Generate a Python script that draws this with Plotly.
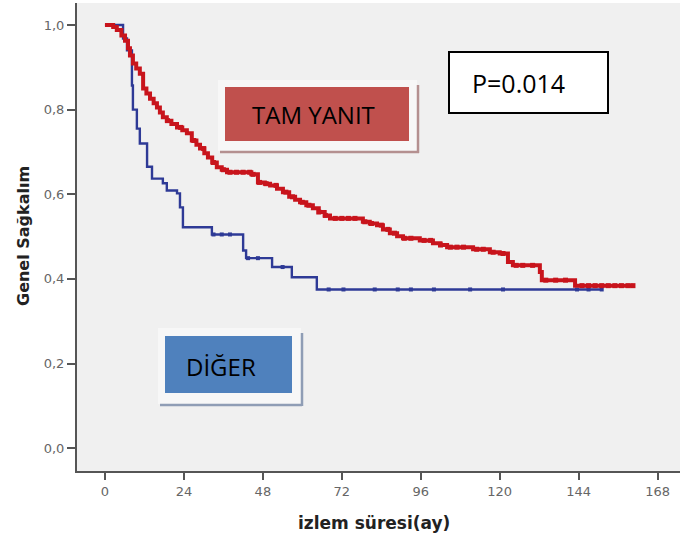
import numpy as np
import plotly.graph_objects as go

# Kaplan-Meier okumalari (ay, sagkalim)
tam_time = [0, 2.5, 3.6, 5.0, 6.1, 7.0, 7.6, 8.5, 9.5, 10.6,
            11.6, 12.6, 13.7, 14.8, 15.8, 16.7, 17.6, 18.8, 20.2, 21.9,
            23.5, 24.9, 26.4, 27.8, 28.9, 30.2, 31.3, 32.6, 34.0, 35.5,
            37.1, 44.5, 46.5, 48.6, 50.2, 52.3, 54.1, 56.0, 57.8, 59.3,
            61.2, 63.2, 65.0, 66.8, 68.4, 78.4, 80.5, 82.7, 84.5, 86.6,
            88.8, 90.6, 95.7, 99.7, 102.0, 104.0, 111.9, 117.0, 120.0, 122.5,
            124.0, 132.2, 132.8, 142.9]
tam_surv = [1.0, 0.995, 0.988, 0.975, 0.963, 0.945, 0.928, 0.909, 0.897, 0.885,
            0.85, 0.838, 0.826, 0.815, 0.805, 0.793, 0.782, 0.774, 0.766, 0.758,
            0.751, 0.744, 0.727, 0.717, 0.708, 0.697, 0.687, 0.675, 0.664, 0.658,
            0.652, 0.647, 0.628, 0.625, 0.621, 0.613, 0.605, 0.594, 0.587, 0.581,
            0.574, 0.567, 0.558, 0.550, 0.543, 0.535, 0.531, 0.527, 0.517, 0.508,
            0.501, 0.496, 0.491, 0.484, 0.480, 0.475, 0.47, 0.463, 0.46, 0.44,
            0.432, 0.416, 0.397, 0.384]
tam_end = 160.5
tam_censor = [19, 23, 27, 30, 33, 36, 38, 40, 42, 44, 45, 47, 49, 52, 55, 57, 60, 62,
              65, 67, 70, 72, 74, 76, 79, 81, 84, 86, 88, 91, 93, 97, 99, 102, 105,
              107, 109, 113, 115, 118, 121, 125, 127, 130, 134, 137, 140, 145, 147,
              149, 151, 153, 155, 157, 159, 160.5]

diger_time = [0, 5.5, 6.7, 8.2, 8.5, 9.7, 10.6, 12.8, 14.3, 17.6,
              18.8, 21.9, 22.8, 23.7, 32.5, 42.0, 42.9, 50.8, 56.8, 64.4]
diger_surv = [1.0, 0.968, 0.94, 0.857, 0.80, 0.755, 0.72, 0.665, 0.637, 0.626,
              0.609, 0.602, 0.569, 0.522, 0.505, 0.467, 0.449, 0.428, 0.404, 0.375]
diger_end = 151
diger_censor = [33, 35.5, 38, 43.5, 46.5, 54, 68, 72.5, 82, 89, 93, 100, 111, 121,
                143.5, 147, 151]

x_ticks = [0, 24, 48, 72, 96, 120, 144, 168]
y_ticks = [0.0, 0.2, 0.4, 0.6, 0.8, 1.0]
y_ticktext = ["0,0", "0,2", "0,4", "0,6", "0,8", "1,0"]

RED = "#c8141c"
BLUE = "#2e3a96"


def step_at(times, surv, t):
    i = np.searchsorted(times, t, side="right") - 1
    return surv[i]


fig = go.Figure()


def add_curve(times, surv, end, censor, color, width, msize):
    fig.add_trace(go.Scatter(
        x=times + [end], y=surv + [surv[-1]],
        mode="lines", line=dict(color=color, width=width, shape="hv"),
        showlegend=False, hoverinfo="skip"))
    fig.add_trace(go.Scatter(
        x=censor, y=[step_at(times, surv, c) for c in censor],
        mode="markers", marker=dict(color=color, size=msize, symbol="square"),
        showlegend=False, hoverinfo="skip"))


add_curve(diger_time, diger_surv, diger_end, diger_censor, BLUE, 2.4, 4)
add_curve(tam_time, tam_surv, tam_end, tam_censor, RED, 4, 5)

# piksel -> paper donusumu
L, R, T, B = 77, 680, 3, 471


def px(x):
    return (x - L) / (R - L)


def py(y):
    return (B - y) / (B - T)


def box(x0, y0, x1, y1, fill, line_color=None, lw=0):
    fig.add_shape(type="rect", xref="paper", yref="paper",
                  x0=px(x0), x1=px(x1), y0=py(y1), y1=py(y0),
                  fillcolor=fill, layer="above",
                  line=dict(color=line_color or fill, width=lw))


def seg(x0, y0, x1, y1, color, lw):
    fig.add_shape(type="line", xref="paper", yref="paper",
                  x0=px(x0), x1=px(x1), y0=py(y0), y1=py(y1),
                  line=dict(color=color, width=lw), layer="above")


def label(x, y, text, font, angle=0):
    fig.add_annotation(x=px(x), y=py(y), xref="paper", yref="paper", text=text,
                       showarrow=False, xanchor="center", yanchor="middle",
                       textangle=angle, font=font)


# TAM YANIT
box(218, 80, 417, 151, "#f7f7f7")
seg(220, 152, 419, 152, "#b49090", 2.5)
seg(418, 85, 418, 153, "#b49090", 2.5)
box(225, 87, 409, 141, "#c0504d")
# DIGER
box(158, 328, 301, 404, "#f7f7f7")
seg(160, 405, 302, 405, "#8f9db5", 2.5)
seg(302, 333, 302, 406, "#8f9db5", 2.5)
box(165, 336, 292, 393, "#4f81bd")
# P
box(449, 52, 608, 113, "white", "black", 2)

font_box = dict(family="Open Sans, Liberation Sans, sans-serif", size=24, color="black")
label(313, 114, "TAM YANIT", font_box)
label(221, 366, "DİĞER", font_box)
label(518, 83, "P=0.014", dict(font_box, size=25))

title_font = dict(family="DejaVu Sans, sans-serif", size=16, color="#222222")
label(374, 523, "<b>izlem süresi(ay)</b>", dict(title_font, size=17))
label(23, 236, "<b>Genel Sağkalım</b>", title_font, -90)

axis_font = dict(family="DejaVu Sans, sans-serif", size=13, color="#666666")

fig.update_layout(
    width=680, height=542,
    margin=dict(l=L, r=680 - R, t=T, b=542 - B, autoexpand=False),
    paper_bgcolor="white", plot_bgcolor="#f0f0f0",
    xaxis=dict(range=[-8.5, 174.8], tickvals=x_ticks, showgrid=False, zeroline=False,
               showline=True, linecolor="#555555", linewidth=2, automargin=False,
               ticks="outside", ticklen=7, tickwidth=2, tickcolor="#555555",
               tickfont=axis_font),
    yaxis=dict(range=[-0.054, 1.052], tickvals=y_ticks, ticktext=y_ticktext,
               showgrid=False, zeroline=False, automargin=False,
               showline=True, linecolor="#555555", linewidth=2,
               ticks="outside", ticklen=8, tickwidth=2, tickcolor="#555555",
               tickfont=axis_font),
)

fig.write_html("out.html", config={"displayModeBar": False},
               post_script="document.body.style.margin='0';")
